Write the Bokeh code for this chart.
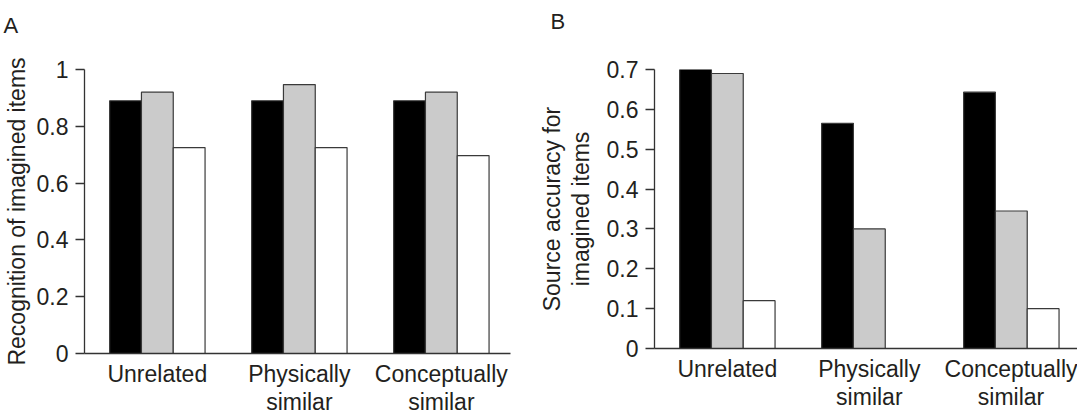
from bokeh.plotting import figure
from bokeh.layouts import row
from bokeh.models import FixedTicker, Range1d, ColumnDataSource, Title
from bokeh.transform import dodge
from bokeh.embed import file_html
from bokeh.resources import INLINE

# ---------------- data ----------------
categories = ["Unrelated", "Physically\nsimilar", "Conceptually\nsimilar"]
cat_pos = [1, 2, 3]

a_black = [0.89, 0.89, 0.89]
a_gray = [0.92, 0.947, 0.92]
a_white = [0.725, 0.725, 0.697]

b_black = [0.70, 0.565, 0.643]
b_gray = [0.69, 0.30, 0.345]
b_white = [0.12, 0.0, 0.10]

a_ticks = [0, 0.2, 0.4, 0.6, 0.8, 1]
a_tick_labels = ["0", "0.2", "0.4", "0.6", "0.8", "1"]
b_ticks = [0, 0.1, 0.2, 0.3, 0.4, 0.5, 0.6, 0.7]
b_tick_labels = ["0", "0.1", "0.2", "0.3", "0.4", "0.5", "0.6", "0.7"]

a_ylabel = "Recognition of imagined items"
b_ylabel = "Source accuracy for\nimagined items"

FONT = "Liberation Sans"
TXT = "#231f20"
AX = "#333333"
EDGE = "#3a3a3a"
COLORS = ["#000000", "#cbcbcb", "#ffffff"]
BW = 0.224


def make_panel(letter, black, gray, white, ticks, tick_labels, ylabel, ymax,
               frame_w, frame_h, bl, br, bt, bb, x_end, letter_offset, letter_standoff,
               label_standoff):
    p = figure(frame_width=frame_w, frame_height=frame_h, output_backend="svg",
               toolbar_location=None,
               x_range=Range1d(0.487, x_end), y_range=Range1d(0, ymax),
               min_border_left=bl, min_border_right=br, min_border_top=bt,
               min_border_bottom=bb)
    src = ColumnDataSource(dict(x=cat_pos, black=black, gray=gray, white=white))
    for off, col, c in zip([-BW, 0, BW], ["black", "gray", "white"], COLORS):
        p.vbar(x=dodge("x", off, range=p.x_range), top=col, width=BW, source=src,
               fill_color=c, line_color=EDGE, line_width=1.2)

    p.xgrid.visible = False
    p.ygrid.visible = False
    p.outline_line_color = None
    p.background_fill_color = "white"
    p.border_fill_color = "white"

    # panel letter as the plot title (second blank line lifts it to the top)
    p.title = Title(text=letter + "\n ", text_font=FONT, text_font_size="22px",
                    text_font_style="normal", text_color=TXT, align="left",
                    offset=letter_offset, standoff=letter_standoff, vertical_align="top",
                    text_line_height=1.1)

    # x axis
    xa = p.xaxis[0]
    xa.ticker = FixedTicker(ticks=cat_pos)
    xa.major_label_overrides = dict(zip(cat_pos, categories))
    xa.major_tick_out = 0
    xa.major_tick_in = 0
    xa.minor_tick_out = 0
    xa.minor_tick_in = 0
    xa.major_label_standoff = 7
    xa.major_label_text_font = FONT
    xa.major_label_text_font_size = "23px"
    xa.major_label_text_line_height = 1.1
    xa.major_label_text_color = TXT
    xa.axis_line_color = AX
    xa.axis_line_width = 1.3

    # y axis
    ya = p.yaxis[0]
    ya.ticker = FixedTicker(ticks=ticks)
    ya.major_label_overrides = dict(zip(ticks, tick_labels))
    ya.major_tick_out = 9
    ya.major_tick_in = 0
    ya.minor_tick_out = 0
    ya.minor_tick_in = 0
    ya.major_tick_line_color = AX
    ya.major_tick_line_width = 1.3
    ya.major_label_standoff = 7
    ya.major_label_text_font = FONT
    ya.major_label_text_font_size = "23px"
    ya.major_label_text_color = TXT
    ya.axis_line_color = AX
    ya.axis_line_width = 1.3
    ya.axis_label = ylabel
    ya.axis_label_text_font = FONT
    ya.axis_label_text_font_size = "23px"
    ya.axis_label_text_font_style = "normal"
    ya.axis_label_text_line_height = 1.1
    ya.axis_label_text_color = TXT
    ya.axis_label_standoff = label_standoff
    return p


# frame A: left 91, top 72, bottom 356 ; frame B: left 661, top 77, bottom 356 (page px)
pa = make_panel("A", a_black, a_gray, a_white, a_ticks, a_tick_labels, a_ylabel, 1.0,
                frame_w=426, frame_h=284, bl=83, br=23, bt=64, bb=80,
                x_end=3.487, letter_offset=-81, letter_standoff=4, label_standoff=4)
pb = make_panel("B", b_black, b_gray, b_white, b_ticks, b_tick_labels, b_ylabel, 0.7,
                frame_w=423, frame_h=279, bl=121, br=0, bt=69, bb=80,
                x_end=3.466, letter_offset=-104, letter_standoff=12, label_standoff=10)

layout = row(pa, pb)
html = file_html(layout, INLINE)
html = html.replace("<head>", "<head><style>html,body{overflow:hidden;}</style>", 1)
open("out.html", "w").write(html)
